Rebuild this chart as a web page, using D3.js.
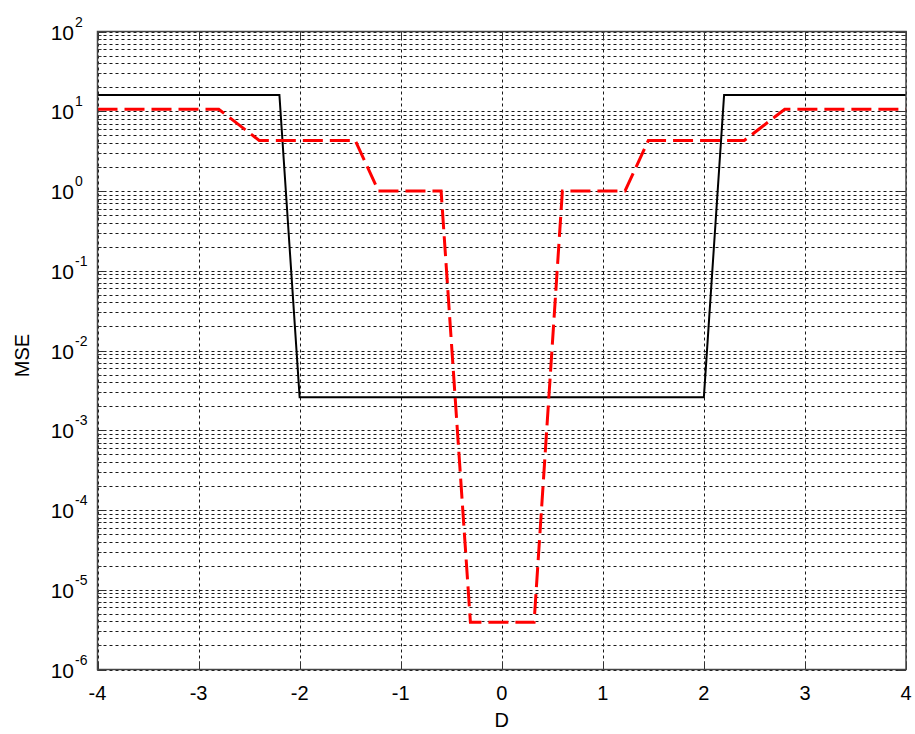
<!DOCTYPE html>
<html>
<head>
<meta charset="utf-8">
<script src="https://cdn.jsdelivr.net/npm/d3@7"></script>
<style>
  body { margin: 0; background: #fff; }
  svg text { font-family: Arial, "Liberation Sans", sans-serif; fill: #000; }
</style>
</head>
<body>
<div id="chart"></div>
<script>
// x ticks and y decades
const xTicks = [-4, -3, -2, -1, 0, 1, 2, 3, 4];
const yDecades = [-6, -5, -4, -3, -2, -1, 0, 1, 2];

// solid black curve
const blackD = [-4, -2.2, -2.0, 2.0, 2.2, 4];
const blackMSE = [16, 16, 0.0026, 0.0026, 16, 16];

// dashed red curve
const redD = [-4, -2.8, -2.4, -1.45, -1.22, -0.6, -0.31, 0.32, 0.6, 1.22, 1.45, 2.4, 2.8, 4];
const redMSE = [10.6, 10.6, 4.3, 4.3, 1.0, 1.0, 3.9e-6, 3.9e-6, 1.0, 1.0, 4.3, 4.3, 10.6, 10.6];

const width = 915, height = 734;
const margin = {left: 97.5, right: 9, top: 31.5, bottom: 64.5};

const svg = d3.select('#chart').append('svg')
    .attr('width', width)
    .attr('height', height);

const x = d3.scaleLinear().domain([-4, 4]).range([margin.left, width - margin.right]);
const y = d3.scaleLog().domain([1e-6, 1e2]).range([height - margin.bottom, margin.top]);

const x0 = x.range()[0], x1 = x.range()[1];
const y0 = y.range()[0], y1 = y.range()[1];

// all log gridline values (1..9 per decade)
let yGrid = [];
yDecades.forEach(function (e) {
    for (let m = 1; m <= 9; m++) {
        if (e === 2 && m > 1) break;
        yGrid.push(m * Math.pow(10, e));
    }
});

const grid = svg.append('g')
    .attr('stroke', '#000')
    .attr('stroke-width', 1)
    .attr('stroke-dasharray', '3,3')
    .attr('opacity', 0.9);

grid.selectAll('line.hg')
    .data(yGrid)
    .enter()
    .append('line')
    .attr('class', 'hg')
    .attr('x1', x0)
    .attr('x2', x1)
    .attr('y1', (d) => Math.round(y(d)) + 0.5)
    .attr('y2', (d) => Math.round(y(d)) + 0.5);

grid.selectAll('line.vg')
    .data(xTicks)
    .enter()
    .append('line')
    .attr('class', 'vg')
    .attr('x1', (d) => Math.round(x(d)) + 0.5)
    .attr('x2', (d) => Math.round(x(d)) + 0.5)
    .attr('y1', y1)
    .attr('y2', y0);

// tick marks inside the box
const ticks = svg.append('g').attr('stroke', '#333').attr('stroke-width', 1);
yGrid.forEach(function (v) {
    const len = (Math.log10(v) % 1 === 0) ? 8 : 4;
    const yy = Math.round(y(v)) + 0.5;
    ticks.append('line').attr('x1', x0).attr('x2', x0 + len).attr('y1', yy).attr('y2', yy);
    ticks.append('line').attr('x1', x1 - len).attr('x2', x1).attr('y1', yy).attr('y2', yy);
});
xTicks.forEach(function (v) {
    const xx = Math.round(x(v)) + 0.5;
    ticks.append('line').attr('x1', xx).attr('x2', xx).attr('y1', y0).attr('y2', y0 - 8);
    ticks.append('line').attr('x1', xx).attr('x2', xx).attr('y1', y1).attr('y2', y1 + 8);
});

// curves
const line = d3.line()
    .x((d) => x(d[0]))
    .y((d) => y(d[1]));

svg.append('path')
    .datum(blackD.map((d, i) => [d, blackMSE[i]]))
    .attr('fill', 'none')
    .attr('stroke', '#000')
    .attr('stroke-width', 2)
    .attr('d', line);

svg.append('path')
    .datum(redD.map((d, i) => [d, redMSE[i]]))
    .attr('fill', 'none')
    .attr('stroke', '#ff0000')
    .attr('stroke-width', 3)
    .attr('stroke-dasharray', '20,7')
    .attr('d', line);

// box
svg.append('rect')
    .attr('x', x0)
    .attr('y', y1)
    .attr('width', x1 - x0)
    .attr('height', y0 - y1)
    .attr('fill', 'none')
    .attr('stroke', '#444')
    .attr('stroke-width', 1.5);

// x tick labels
svg.append('g').selectAll('text')
    .data(xTicks)
    .enter()
    .append('text')
    .attr('x', (d) => x(d))
    .attr('y', y0 + 30)
    .attr('text-anchor', 'middle')
    .attr('font-size', 20)
    .text((d) => d);

// y tick labels: 10 with exponent
const yl = svg.append('g').selectAll('g')
    .data(yDecades)
    .enter()
    .append('g')
    .attr('transform', (d) => `translate(0,${y(Math.pow(10, d))})`);

yl.append('text')
    .attr('x', 74)
    .attr('y', 8)
    .attr('text-anchor', 'end')
    .attr('font-size', 21)
    .text('10');

yl.append('text')
    .attr('x', 75)
    .attr('y', -5)
    .attr('text-anchor', 'start')
    .attr('font-size', 14)
    .text((d) => d);

// axis titles
svg.append('text')
    .attr('x', x(0))
    .attr('y', 727)
    .attr('text-anchor', 'middle')
    .attr('font-size', 20)
    .text('D');

svg.append('text')
    .attr('transform', `translate(29,${(y0 + y1) / 2 + 5}) rotate(-90)`)
    .attr('text-anchor', 'middle')
    .attr('font-size', 20)
    .text('MSE');
</script>
</body>
</html>
